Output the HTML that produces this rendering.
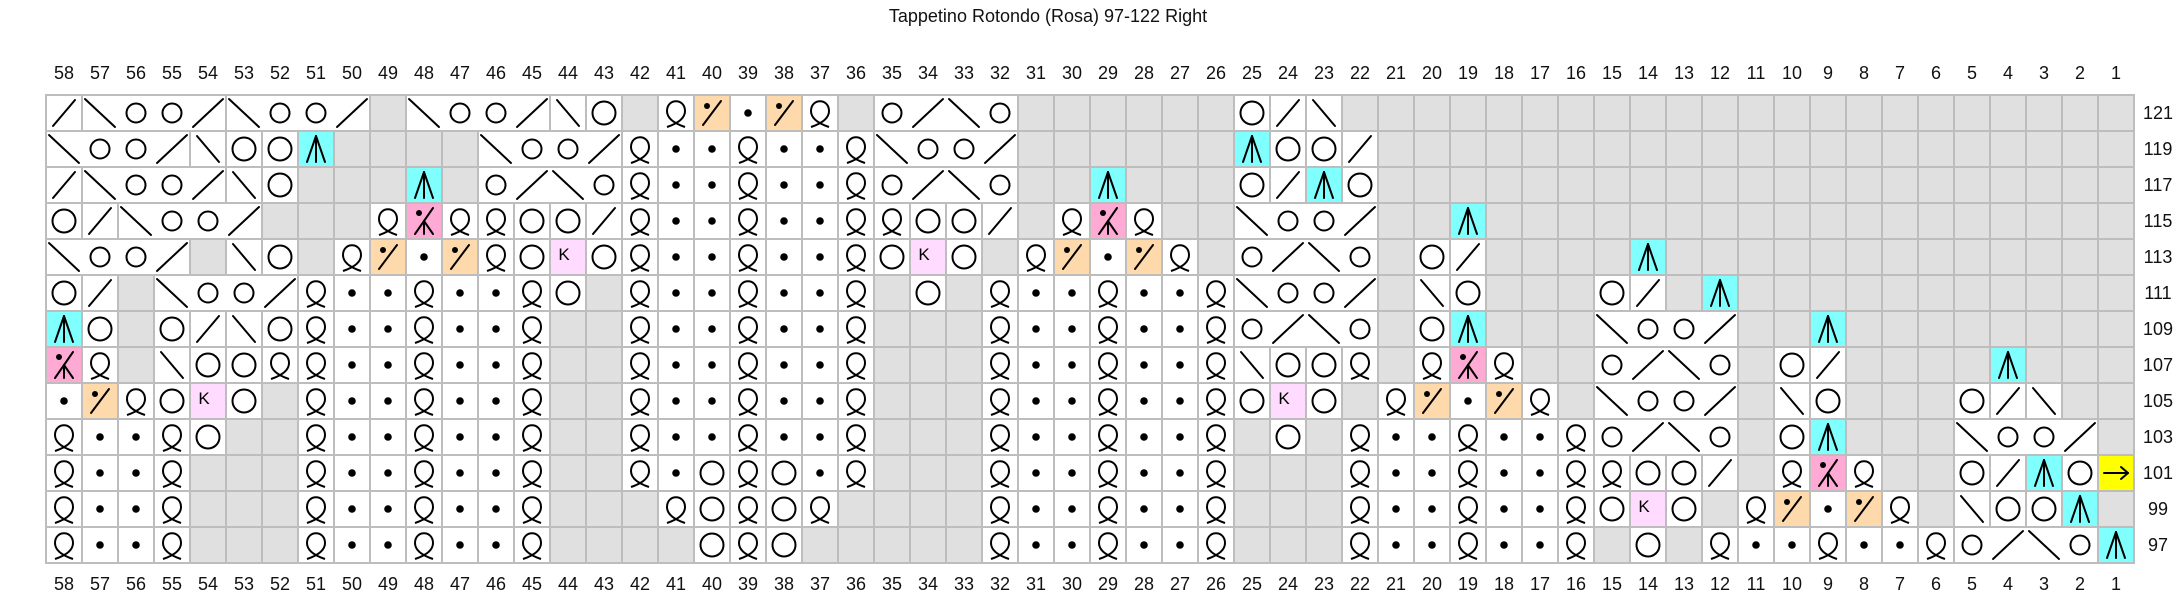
<!DOCTYPE html>
<html><head><meta charset="utf-8">
<style>
html,body{margin:0;padding:0;background:#fff;}
body{width:2178px;height:608px;overflow:hidden;position:relative;font-family:"Liberation Sans",sans-serif;}
svg{position:absolute;left:0;top:0;}
</style></head>
<body>
<svg id="s" width="2178" height="608" xmlns="http://www.w3.org/2000/svg" font-family="Liberation Sans, sans-serif">
<text x="1048" y="22" font-size="18" text-anchor="middle" fill="#111">Tappetino Rotondo (Rosa) 97-122 Right</text>
<g font-size="18" text-anchor="middle" fill="#111">
<text x="64" y="79">58</text><text x="100" y="79">57</text><text x="136" y="79">56</text><text x="172" y="79">55</text><text x="208" y="79">54</text><text x="244" y="79">53</text><text x="280" y="79">52</text><text x="316" y="79">51</text><text x="352" y="79">50</text><text x="388" y="79">49</text><text x="424" y="79">48</text><text x="460" y="79">47</text><text x="496" y="79">46</text><text x="532" y="79">45</text><text x="568" y="79">44</text><text x="604" y="79">43</text><text x="640" y="79">42</text><text x="676" y="79">41</text><text x="712" y="79">40</text><text x="748" y="79">39</text><text x="784" y="79">38</text><text x="820" y="79">37</text><text x="856" y="79">36</text><text x="892" y="79">35</text><text x="928" y="79">34</text><text x="964" y="79">33</text><text x="1000" y="79">32</text><text x="1036" y="79">31</text><text x="1072" y="79">30</text><text x="1108" y="79">29</text><text x="1144" y="79">28</text><text x="1180" y="79">27</text><text x="1216" y="79">26</text><text x="1252" y="79">25</text><text x="1288" y="79">24</text><text x="1324" y="79">23</text><text x="1360" y="79">22</text><text x="1396" y="79">21</text><text x="1432" y="79">20</text><text x="1468" y="79">19</text><text x="1504" y="79">18</text><text x="1540" y="79">17</text><text x="1576" y="79">16</text><text x="1612" y="79">15</text><text x="1648" y="79">14</text><text x="1684" y="79">13</text><text x="1720" y="79">12</text><text x="1756" y="79">11</text><text x="1792" y="79">10</text><text x="1828" y="79">9</text><text x="1864" y="79">8</text><text x="1900" y="79">7</text><text x="1936" y="79">6</text><text x="1972" y="79">5</text><text x="2008" y="79">4</text><text x="2044" y="79">3</text><text x="2080" y="79">2</text><text x="2116" y="79">1</text>
</g>
<g font-size="18" text-anchor="middle" fill="#111">
<text x="64" y="590">58</text><text x="100" y="590">57</text><text x="136" y="590">56</text><text x="172" y="590">55</text><text x="208" y="590">54</text><text x="244" y="590">53</text><text x="280" y="590">52</text><text x="316" y="590">51</text><text x="352" y="590">50</text><text x="388" y="590">49</text><text x="424" y="590">48</text><text x="460" y="590">47</text><text x="496" y="590">46</text><text x="532" y="590">45</text><text x="568" y="590">44</text><text x="604" y="590">43</text><text x="640" y="590">42</text><text x="676" y="590">41</text><text x="712" y="590">40</text><text x="748" y="590">39</text><text x="784" y="590">38</text><text x="820" y="590">37</text><text x="856" y="590">36</text><text x="892" y="590">35</text><text x="928" y="590">34</text><text x="964" y="590">33</text><text x="1000" y="590">32</text><text x="1036" y="590">31</text><text x="1072" y="590">30</text><text x="1108" y="590">29</text><text x="1144" y="590">28</text><text x="1180" y="590">27</text><text x="1216" y="590">26</text><text x="1252" y="590">25</text><text x="1288" y="590">24</text><text x="1324" y="590">23</text><text x="1360" y="590">22</text><text x="1396" y="590">21</text><text x="1432" y="590">20</text><text x="1468" y="590">19</text><text x="1504" y="590">18</text><text x="1540" y="590">17</text><text x="1576" y="590">16</text><text x="1612" y="590">15</text><text x="1648" y="590">14</text><text x="1684" y="590">13</text><text x="1720" y="590">12</text><text x="1756" y="590">11</text><text x="1792" y="590">10</text><text x="1828" y="590">9</text><text x="1864" y="590">8</text><text x="1900" y="590">7</text><text x="1936" y="590">6</text><text x="1972" y="590">5</text><text x="2008" y="590">4</text><text x="2044" y="590">3</text><text x="2080" y="590">2</text><text x="2116" y="590">1</text>
</g>
<g font-size="18" text-anchor="middle" fill="#111">
<text x="2158" y="119">121</text><text x="2158" y="155">119</text><text x="2158" y="191">117</text><text x="2158" y="227">115</text><text x="2158" y="263">113</text><text x="2158" y="299">111</text><text x="2158" y="335">109</text><text x="2158" y="371">107</text><text x="2158" y="407">105</text><text x="2158" y="443">103</text><text x="2158" y="479">101</text><text x="2158" y="515">99</text><text x="2158" y="551">97</text>
</g>
<g id="grid"></g>
</svg>
<script>
var Q7="Q . . Q . . Q";
var rows=[
"/ \\ +o +o +/ \\ +o +o +/ g \\ +o +o +/ \\ O g Q Z . Z Q g o +/ +\\ +o g g g g g g O / \\ "+rep("g",22),
"\\ +o +o +/ \\ O O A g g g g \\ +o +o +/ "+Q7+" \\ +o +o +/ g g g g g g A O O / "+rep("g",21),
"/ \\ +o +o +/ \\ O g g g A g o +/ +\\ +o "+Q7+" o +/ +\\ +o g g A g g g O / A O "+rep("g",21),
"O / \\ +o +o +/ g g g Q X Q Q O O / "+Q7+" Q O O / g Q X Q g g \\ +o +o +/ g g A "+rep("g",18),
"\\ +o +o +/ g \\ O g Q Z . Z Q O K O "+Q7+" O K O g Q Z . Z Q g o +/ +\\ +o g O / g g g g A "+rep("g",13),
"O / g \\ +o +o +/ "+Q7+" O g "+Q7+" g O g Q . . Q . . Q \\ +o +o +/ g \\ O g g g O / g A "+rep("g",11),
"A O g O / \\ O "+Q7+" g g "+Q7+" g g g "+Q7+" o +/ +\\ +o g O A g g g \\ +o +o +/ g g A "+rep("g",8),
"X Q g \\ O O Q "+Q7+" g g "+Q7+" g g g "+Q7+" \\ O O Q g Q X Q g g o +/ +\\ +o g O / g g g g A g g g",
". Z Q O K O g "+Q7+" g g "+Q7+" g g g "+Q7+" O K O g Q Z . Z Q g \\ +o +o +/ g \\ O g g g O / \\ g g",
"Q . . Q O g g "+Q7+" g g "+Q7+" g g g "+Q7+" g O g "+Q7+" o +/ +\\ +o g O A g g g \\ +o +o +/ g",
"Q . . Q g g g "+Q7+" g g Q . O Q O . Q g g g "+Q7+" g g g "+Q7+" Q O O / g Q X Q g g O / A O R",
"Q . . Q g g g "+Q7+" g g g Q O Q O Q g g g g "+Q7+" g g g "+Q7+" O K O g Q Z . Z Q g \\ O O A g",
"Q . . Q g g g "+Q7+" g g g g O Q O g g g g g "+Q7+" g g g "+Q7+" g O g Q . . Q . . Q o +/ +\\ +o A"
];
function rep(t,n){var a=[];for(var i=0;i<n;i++)a.push(t);return a.join(" ");}
var NS="http://www.w3.org/2000/svg";
var G=document.getElementById("grid");
function el(n,a){var e=document.createElementNS(NS,n);for(var k in a)e.setAttribute(k,a[k]);G.appendChild(e);return e;}
var X0=46,Y0=95,W=36;
var fills={g:"#e0e0e0",A:"#80ffff",X:"#ffaad4",Z:"#fdd9ab",K:"#ffdcff",R:"#ffff00"};
var parsed=[];
rows.forEach(function(r,ri){
  var t=r.trim().split(/\s+/);
  var cells=t.map(function(s){return {m:s.length>1&&s[0]=="+",s:(s.length>1&&s[0]=="+")?s.slice(1):s};});
  parsed.push(cells);
});
// background fills + borders
parsed.forEach(function(cells,ri){
  var y=Y0+ri*W;
  cells.forEach(function(c,i){
    var x=X0+i*W;
    el("rect",{x:x,y:y,width:W,height:W,fill:fills[c.s]||"#fff",stroke:"#bdbdbd","stroke-width":2});
  });
});
el("rect",{x:X0,y:Y0,width:58*W,height:13*W,fill:"none",stroke:"#bdbdbd","stroke-width":2});
// merges
parsed.forEach(function(cells,ri){
  var y=Y0+ri*W;
  cells.forEach(function(c,i){
    if(c.m){var x=X0+i*W;el("rect",{x:x-3,y:y+1,width:6,height:W-2,fill:"#fff"});}
  });
});
// symbols
var st={stroke:"#000","stroke-width":2,fill:"none","stroke-linecap":"round"};
function line(x1,y1,x2,y2){var a={x1:x1,y1:y1,x2:x2,y2:y2};for(var k in st)a[k]=st[k];el("line",a);}
parsed.forEach(function(cells,ri){
  var cy=Y0+ri*W+W/2;
  cells.forEach(function(c,i){
    var cx=X0+i*W+W/2, s=c.s;
    var merged=c.m||(i+1<cells.length&&cells[i+1].m);
    var d=merged?15:11, dy=merged?14:13;
    if(s=="/")line(cx-d,cy+dy,cx+d,cy-dy);
    else if(s=="\\")line(cx-d,cy-dy,cx+d,cy+dy);
    else if(s=="o")el("circle",{cx:cx,cy:cy,r:9.5,stroke:"#000","stroke-width":2,fill:"none"});
    else if(s=="O")el("circle",{cx:cx,cy:cy,r:11.5,stroke:"#000","stroke-width":2,fill:"none"});
    else if(s==".")el("circle",{cx:cx,cy:cy,r:3.8,fill:"#000"});
    else if(s=="Q")el("path",{d:"M"+(cx-9)+" "+(cy+14)+" C"+(cx)+" "+(cy+11)+" "+(cx+9)+" "+(cy+6)+" "+(cx+9)+" "+(cy-2)+" C"+(cx+9)+" "+(cy-15)+" "+(cx-9)+" "+(cy-15)+" "+(cx-9)+" "+(cy-2)+" C"+(cx-9)+" "+(cy+6)+" "+(cx)+" "+(cy+11)+" "+(cx+9)+" "+(cy+14),stroke:"#000","stroke-width":2,fill:"none"});
    else if(s=="A"){line(cx,cy-13,cx-9,cy+13);line(cx,cy-13,cx+9,cy+13);line(cx,cy-13,cx,cy+13);}
    else if(s=="X"){line(cx+9,cy-13,cx-9,cy+13);line(cx,cy,cx+9,cy+13);line(cx,cy,cx,cy+13);el("circle",{cx:cx-5,cy:cy-8,r:3,fill:"#000"});}
    else if(s=="Z"){line(cx+9,cy-12,cx-9,cy+12);el("circle",{cx:cx-5,cy:cy-7,r:3,fill:"#000"});}
    else if(s=="K"){var t=el("text",{x:cx-4,y:cy+3,"font-size":17,"text-anchor":"middle",fill:"#000"});t.textContent="K";}
    else if(s=="R"){line(cx-12,cy,cx+12,cy);line(cx+12,cy,cx+5,cy-6);line(cx+12,cy,cx+5,cy+6);}
  });
});
</script>
</body></html>
